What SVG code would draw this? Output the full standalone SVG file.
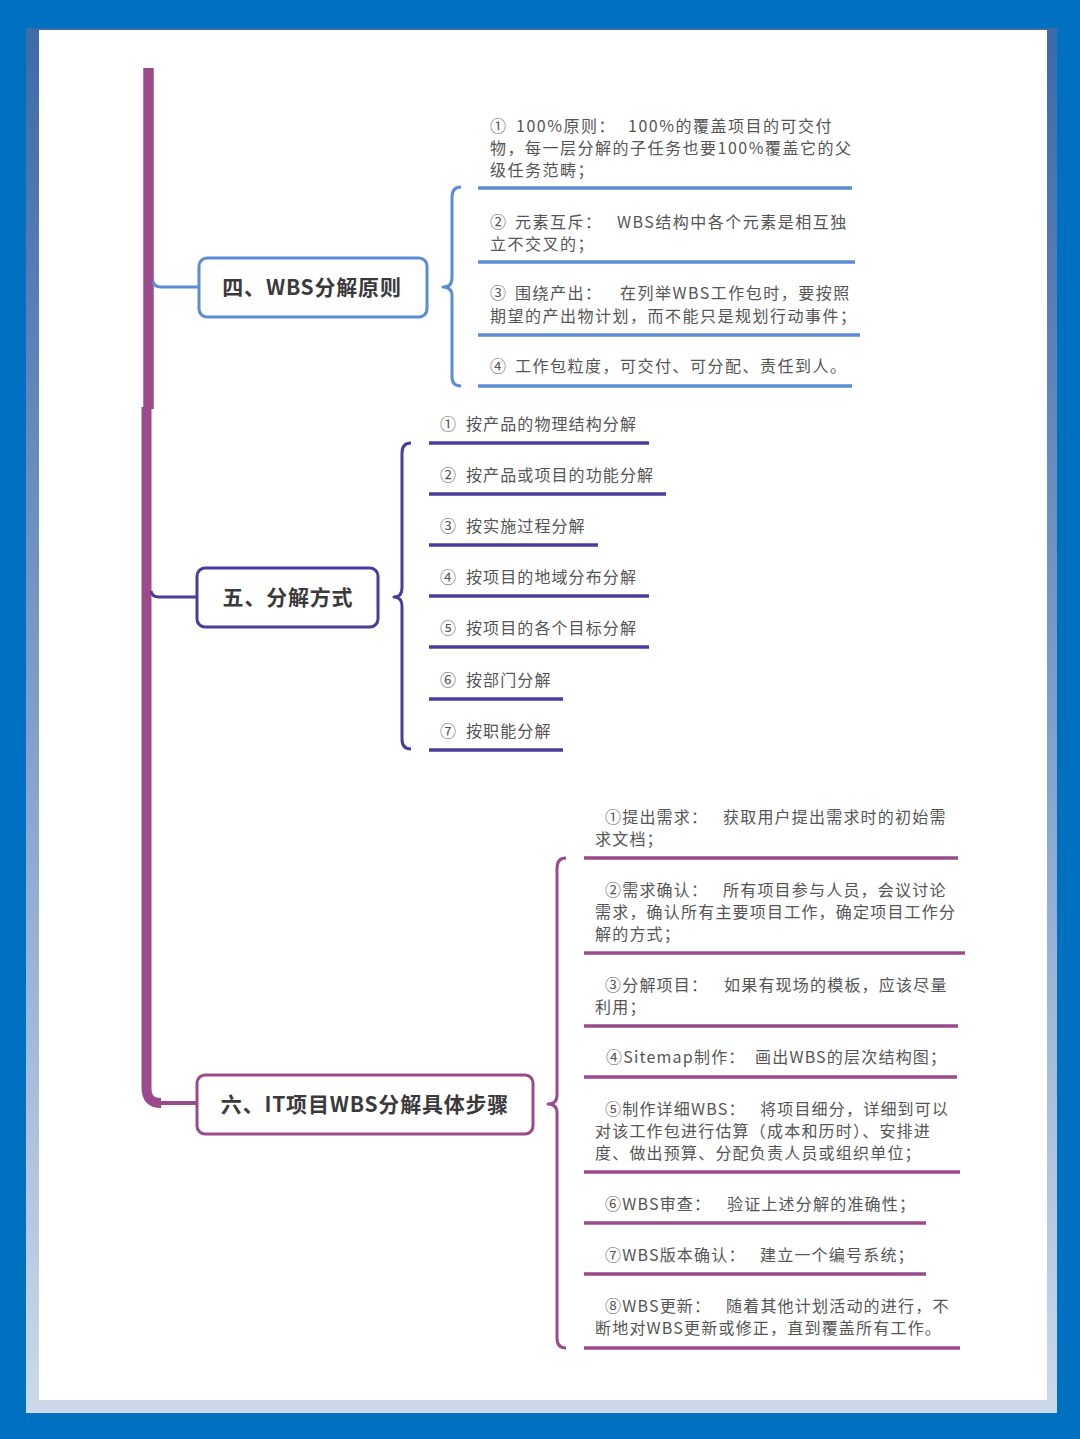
<svg xmlns="http://www.w3.org/2000/svg" width="1080" height="1439" viewBox="0 0 1080 1439">
<defs>
<linearGradient id="frameGrad" x1="0" y1="0" x2="0" y2="1">
<stop offset="0" stop-color="#3d6aa8"/>
<stop offset="0.5" stop-color="#7f9fcb"/>
<stop offset="1" stop-color="#cbd9ea"/>
</linearGradient>
<style>
.t{font-family:"Noto Sans CJK SC","Noto Sans",sans-serif;font-size:16px;fill:#555;}
.t1{letter-spacing:1.5px;}
.t2{letter-spacing:1.1px;}
.t3{letter-spacing:1.2px;}
.title{font-family:"Noto Sans CJK SC","Noto Sans",sans-serif;font-size:21px;font-weight:bold;fill:#3a3a3a;text-anchor:middle;letter-spacing:0.8px;}
.box{fill:#fff;stroke-width:3;}
.blue{stroke:#5a8dd6;}
.indigo{stroke:#4a3c9c;}
.purple{stroke:#9b4a8c;}
.ul{fill:none;stroke-width:3.5;stroke-linecap:butt;}
.br{fill:none;stroke-width:3;stroke-linejoin:round;}
</style>
</defs>
<rect x="0" y="0" width="1080" height="1439" fill="#0070c0"/>
<rect x="26" y="28" width="1031" height="1385" fill="url(#frameGrad)"/>
<rect x="39" y="30" width="1008" height="1370" fill="#ffffff"/>

<g id="connectors">
<line x1="148.5" y1="68" x2="148.5" y2="409" stroke="#9b4a8c" stroke-width="10.5"/>
<path d="M146.5 407 L146.5 1088 Q146.5 1103 161 1103" fill="none" stroke="#9b4a8c" stroke-width="10"/>
<line x1="158" y1="1103" x2="197" y2="1103" stroke="#9b4a8c" stroke-width="4"/>
<path d="M153 281 Q154 287 161 287 L199 287" fill="none" stroke="#5a8dd6" stroke-width="3"/>
<path d="M151 591 Q152 597 159 597 L197 597" fill="none" stroke="#4a3c9c" stroke-width="3"/>
</g>

<g id="node-4">
<rect class="box blue" x="199" y="258" width="228" height="59" rx="8"/>
<text class="title" x="312" y="295">四、WBS分解原则</text>
<path class="br blue" d="M461 187 Q452 187 452 197 L452 278 Q452 287 443 287 Q452 287 452 296 L452 377 Q452 386 461 386"/>
</g>

<g id="node-4-items">
<line class="ul blue" x1="478" y1="188" x2="852" y2="188"/>
<line class="ul blue" x1="478" y1="262" x2="855" y2="262"/>
<line class="ul blue" x1="478" y1="335" x2="860" y2="335"/>
<line class="ul blue" x1="478" y1="386" x2="852" y2="386"/>
<text class="t t1" y="132"><tspan x="490">①</tspan><tspan x="516">100%原则：</tspan><tspan x="628">100%的覆盖项目的可交付</tspan></text>
<text class="t t1" x="490" y="154">物，每一层分解的子任务也要100%覆盖它的父</text>
<text class="t t1" x="490" y="176">级任务范畴；</text>
<text class="t t1" y="228"><tspan x="490">②</tspan><tspan x="515">元素互斥：</tspan><tspan x="617">WBS结构中各个元素是相互独</tspan></text>
<text class="t t1" x="490" y="250">立不交叉的；</text>
<text class="t t1" y="299"><tspan x="490">③</tspan><tspan x="515">围绕产出：</tspan><tspan x="620">在列举WBS工作包时，要按照</tspan></text>
<text class="t t1" x="490" y="322">期望的产出物计划，而不能只是规划行动事件；</text>
<text class="t t1" y="372"><tspan x="490">④</tspan><tspan x="515">工作包粒度，可交付、可分配、责任到人。</tspan></text>
</g>

<g id="node-5">
<rect class="box indigo" x="197" y="568" width="181" height="59" rx="8"/>
<text class="title" x="288" y="605">五、分解方式</text>
<path class="br indigo" d="M411 443 Q402 443 402 453 L402 588 Q402 597 394 597 Q402 597 402 606 L402 739 Q402 749 411 749"/>
</g>

<g id="node-5-items">
<line class="ul indigo" x1="429" y1="443" x2="649" y2="443"/>
<line class="ul indigo" x1="429" y1="494" x2="666" y2="494"/>
<line class="ul indigo" x1="429" y1="545" x2="598" y2="545"/>
<line class="ul indigo" x1="429" y1="596" x2="649" y2="596"/>
<line class="ul indigo" x1="429" y1="647" x2="649" y2="647"/>
<line class="ul indigo" x1="429" y1="699" x2="563" y2="699"/>
<line class="ul indigo" x1="429" y1="750" x2="563" y2="750"/>
<text class="t t2" y="430"><tspan x="440">①</tspan><tspan x="466">按产品的物理结构分解</tspan></text>
<text class="t t2" y="481"><tspan x="440">②</tspan><tspan x="466">按产品或项目的功能分解</tspan></text>
<text class="t t2" y="532"><tspan x="440">③</tspan><tspan x="466">按实施过程分解</tspan></text>
<text class="t t2" y="583"><tspan x="440">④</tspan><tspan x="466">按项目的地域分布分解</tspan></text>
<text class="t t2" y="634"><tspan x="440">⑤</tspan><tspan x="466">按项目的各个目标分解</tspan></text>
<text class="t t2" y="686"><tspan x="440">⑥</tspan><tspan x="466">按部门分解</tspan></text>
<text class="t t2" y="737"><tspan x="440">⑦</tspan><tspan x="466">按职能分解</tspan></text>
</g>

<g id="node-6">
<rect class="box purple" x="197" y="1075" width="336" height="59" rx="8"/>
<text class="title" x="365" y="1112">六、IT项目WBS分解具体步骤</text>
<path class="br purple" d="M566 858 Q557 858 557 868 L557 1095 Q557 1104 548 1104 Q557 1104 557 1113 L557 1338 Q557 1348 566 1348"/>
</g>

<g id="node-6-items">
<line class="ul purple" x1="584" y1="858" x2="958" y2="858"/>
<line class="ul purple" x1="584" y1="953" x2="965" y2="953"/>
<line class="ul purple" x1="584" y1="1026" x2="958" y2="1026"/>
<line class="ul purple" x1="584" y1="1077" x2="957" y2="1077"/>
<line class="ul purple" x1="584" y1="1172" x2="960" y2="1172"/>
<line class="ul purple" x1="584" y1="1223" x2="926" y2="1223"/>
<line class="ul purple" x1="584" y1="1274" x2="926" y2="1274"/>
<line class="ul purple" x1="584" y1="1348" x2="960" y2="1348"/>
<text class="t t3" y="823"><tspan x="605">①提出需求：</tspan><tspan x="723">获取用户提出需求时的初始需</tspan></text>
<text class="t t3" x="595" y="845">求文档；</text>
<text class="t t3" y="896"><tspan x="605">②需求确认：</tspan><tspan x="723">所有项目参与人员，会议讨论</tspan></text>
<text class="t t3" x="595" y="918">需求，确认所有主要项目工作，确定项目工作分</text>
<text class="t t3" x="595" y="940">解的方式；</text>
<text class="t t3" y="991"><tspan x="605">③分解项目：</tspan><tspan x="724">如果有现场的模板，应该尽量</tspan></text>
<text class="t t3" x="595" y="1013">利用；</text>
<text class="t t3" y="1063"><tspan x="606">④Sitemap制作：</tspan><tspan x="755">画出WBS的层次结构图；</tspan></text>
<text class="t t3" y="1115"><tspan x="605">⑤制作详细WBS：</tspan><tspan x="760">将项目细分，详细到可以</tspan></text>
<text class="t t3" x="595" y="1137">对该工作包进行估算（成本和历时）、安排进</text>
<text class="t t3" x="595" y="1159">度、做出预算、分配负责人员或组织单位；</text>
<text class="t t3" y="1210"><tspan x="605">⑥WBS审查：</tspan><tspan x="727">验证上述分解的准确性；</tspan></text>
<text class="t t3" y="1261"><tspan x="605">⑦WBS版本确认：</tspan><tspan x="760">建立一个编号系统；</tspan></text>
<text class="t t3" y="1312"><tspan x="605">⑧WBS更新：</tspan><tspan x="726">随着其他计划活动的进行，不</tspan></text>
<text class="t t3" x="595" y="1334">断地对WBS更新或修正，直到覆盖所有工作。</text>
</g>
</svg>
